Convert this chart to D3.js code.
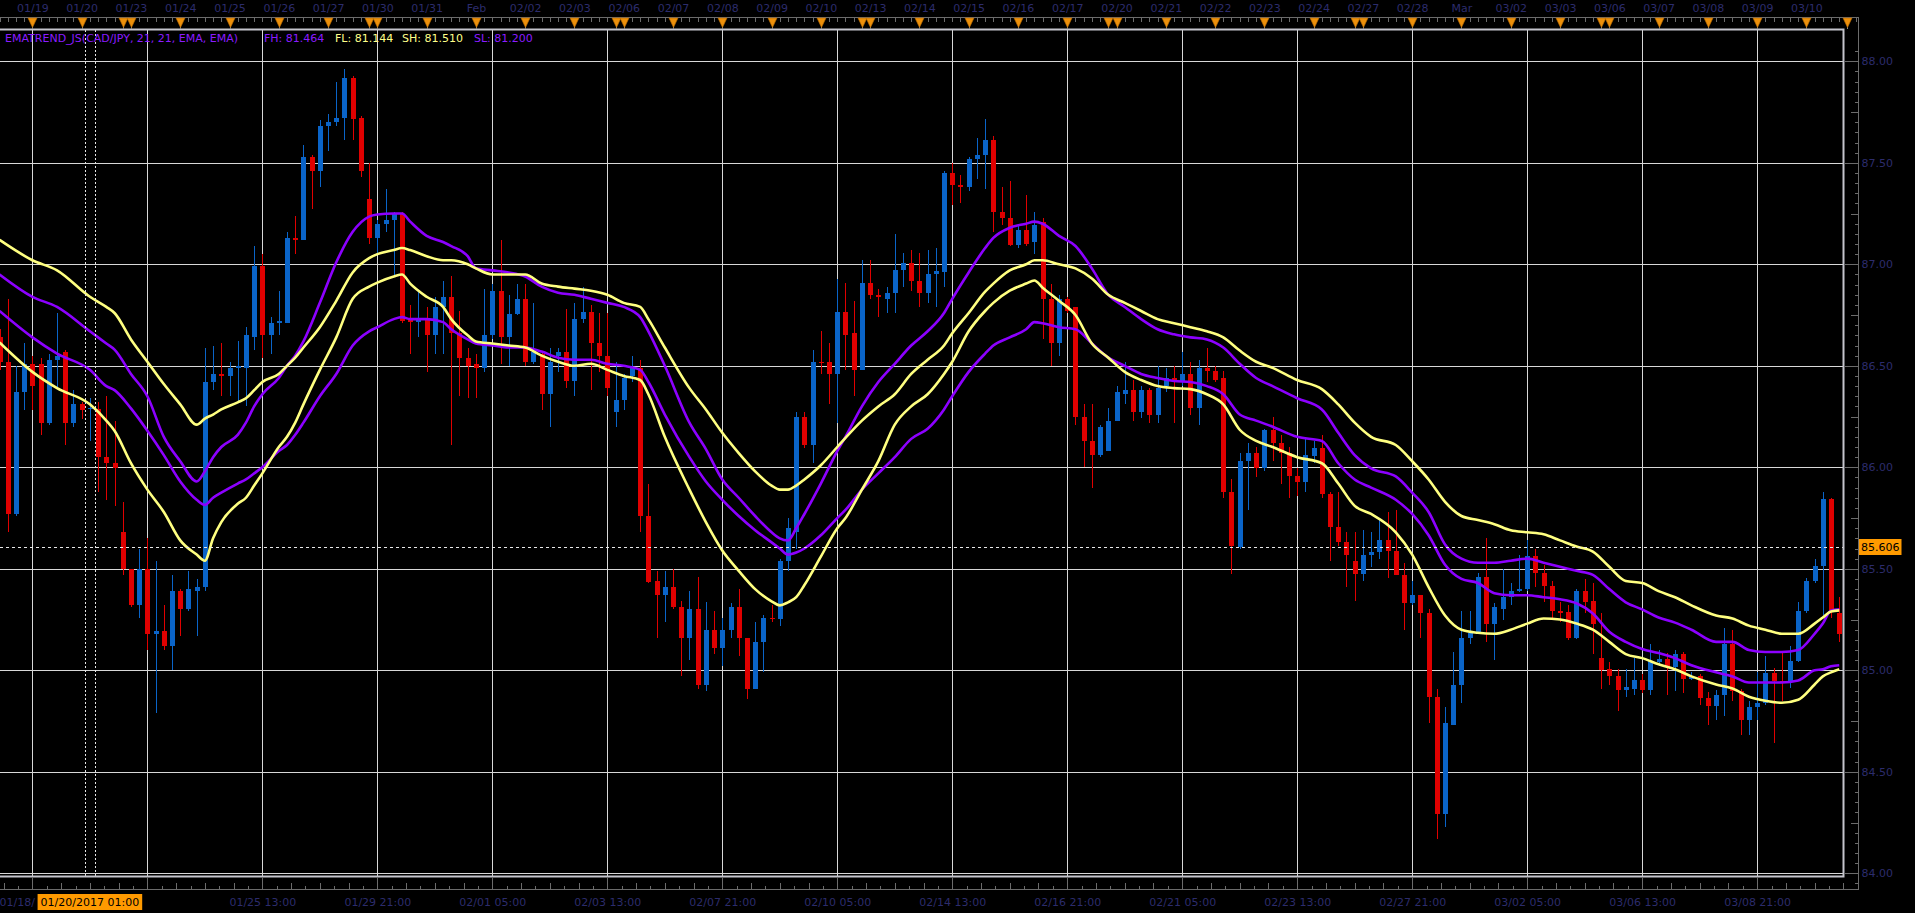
<!DOCTYPE html>
<html>
<head>
<meta charset="utf-8">
<script src="https://cdn.jsdelivr.net/npm/d3@7"></script>
<style>
  html, body { margin: 0; padding: 0; background: #000; overflow: hidden; }
  svg { display: block; font-family: "DejaVu Sans", Verdana, sans-serif; }
</style>
</head>
<body>
<script>
// 4H CAD/JPY candles, index 0 = 01/18 21:00 bar, first visible bar is index -4
const firstIdx = -4;
const opens = [86.64, 86.52, 85.77, 86.37,
  86.51, 86.51, 86.22, 86.53, 86.57, 86.22, 86.31, 86.285, 86.285, 86.05,
  86.02, 85.68, 85.50, 85.32, 85.50, 85.18, 85.195, 85.12, 85.39, 85.30,
  85.39, 85.41, 86.42, 86.46, 86.45, 86.49, 86.49, 86.64, 86.99, 86.65,
  86.71, 86.71, 87.13, 87.12, 87.53, 87.46, 87.68, 87.70, 87.72, 87.92,
  87.72, 87.32, 87.13, 87.20, 87.22, 87.25, 86.73, 86.715, 86.73, 86.65,
  86.79, 86.84, 86.66, 86.54, 86.51, 86.49, 86.65, 86.87, 86.64, 86.755,
  86.83, 86.52, 86.56, 86.36, 86.55, 86.57, 86.425, 86.73, 86.765, 86.61,
  86.55, 86.27, 86.33, 86.45, 86.49, 85.76, 85.44, 85.37, 85.41, 85.31,
  85.16, 85.30, 84.93, 85.20, 85.11, 85.20, 85.31, 85.16, 84.91, 85.14,
  85.26, 85.255, 85.54, 85.68, 86.25, 86.11, 86.52, 86.52, 86.46, 86.765,
  86.66, 86.48, 86.91, 86.85, 86.83, 86.86, 86.97, 87.005, 86.92, 86.86,
  86.95, 86.96, 87.45, 87.39, 87.38, 87.52, 87.54, 87.61, 87.26, 87.23,
  87.095, 87.17, 87.11, 87.21, 86.83, 86.61, 86.83, 86.79, 86.25, 86.13,
  86.06, 86.08, 86.23, 86.36, 86.38, 86.27, 86.38, 86.26, 86.40, 86.44,
  86.425, 86.46, 86.29, 86.49, 86.475, 86.44, 85.88, 85.605, 86.03, 86.07,
  85.995, 86.185, 86.12, 86.07, 85.955, 85.93, 86.055, 86.095, 85.87, 85.705,
  85.63, 85.54, 85.475, 85.57, 85.585, 85.64, 85.59, 85.47, 85.33, 85.37,
  85.28, 84.87, 84.29, 84.73, 84.93, 85.16, 85.185, 85.46, 85.23, 85.30,
  85.36, 85.39, 85.40, 85.565, 85.48, 85.415, 85.29, 85.285, 85.16, 85.39,
  85.34, 85.06, 85.005, 84.97, 84.905, 84.91, 84.95, 84.905, 85.04, 85.055,
  85.015, 85.08, 84.955, 84.97, 84.865, 84.825, 84.88, 85.13, 84.90, 84.755,
  84.82, 84.84, 84.985, 84.945, 84.94, 85.045, 85.29, 85.44, 85.515, 85.845, 85.28];
const highs = [86.68, 86.83, 86.50, 86.61,
  86.55, 86.54, 86.56, 86.76, 86.58, 86.38, 86.32, 86.34, 86.32, 86.35,
  86.23, 85.83, 85.50, 85.60, 85.65, 85.54, 85.32, 85.47, 85.40, 85.49,
  85.45, 86.59, 86.60, 86.61, 86.52, 86.62, 86.69, 87.09, 87.05, 86.74,
  86.87, 87.16, 87.24, 87.59, 87.54, 87.71, 87.74, 87.90, 87.96, 87.93,
  87.73, 87.50, 87.22, 87.37, 87.26, 87.26, 86.80, 86.87, 86.79, 86.84,
  86.92, 86.94, 86.77, 86.59, 86.56, 86.88, 86.905, 87.12, 86.85, 86.905,
  86.905, 86.81, 86.57, 86.59, 86.59, 86.78, 86.81, 86.89, 86.80, 86.76,
  86.76, 86.52, 86.46, 86.55, 86.53, 85.92, 85.49, 85.49, 85.50, 85.34,
  85.39, 85.46, 85.335, 85.29, 85.26, 85.33, 85.40, 85.16, 85.24, 85.27,
  85.32, 85.55, 85.75, 86.27, 86.27, 86.58, 86.67, 86.61, 86.93, 86.91,
  86.82, 87.02, 87.02, 86.88, 86.89, 87.15, 87.055, 87.07, 87.055, 87.07,
  87.08, 87.46, 87.50, 87.44, 87.53, 87.62, 87.715, 87.63, 87.38, 87.41,
  87.195, 87.34, 87.26, 87.23, 86.905, 86.85, 86.84, 86.79, 86.31, 86.31,
  86.21, 86.29, 86.40, 86.52, 86.43, 86.40, 86.39, 86.50, 86.49, 86.50,
  86.57, 86.52, 86.53, 86.59, 86.50, 86.475, 85.94, 86.07, 86.12, 86.10,
  86.19, 86.25, 86.16, 86.10, 85.995, 86.14, 86.13, 86.16, 85.88, 85.88,
  85.68, 85.68, 85.69, 85.68, 85.74, 85.78, 85.79, 85.53, 85.44, 85.37,
  85.30, 84.91, 84.82, 85.09, 85.29, 85.29, 85.48, 85.65, 85.33, 85.50,
  85.43, 85.57, 85.64, 85.60, 85.52, 85.44, 85.335, 85.32, 85.40, 85.45,
  85.43, 85.28, 85.04, 85.005, 85.005, 85.06, 84.98, 85.13, 85.10, 85.085,
  85.10, 85.09, 84.99, 84.98, 84.895, 84.905, 85.21, 85.20, 84.91, 84.85,
  84.99, 85.07, 85.01, 85.09, 85.12, 85.335, 85.455, 85.55, 85.88, 85.85, 85.36];
const lows = [86.48, 85.68, 85.76, 86.28,
  86.28, 86.16, 86.21, 86.39, 86.11, 86.20, 86.24, 86.13, 85.88, 85.84,
  85.81, 85.47, 85.31, 85.26, 85.10, 84.79, 85.10, 85.00, 85.17, 85.29,
  85.17, 85.39, 86.38, 86.35, 86.35, 86.32, 86.30, 86.58, 86.54, 86.56,
  86.65, 86.71, 87.05, 87.12, 87.27, 87.38, 87.56, 87.68, 87.61, 87.61,
  87.43, 87.10, 87.055, 87.16, 86.94, 86.71, 86.56, 86.64, 86.47, 86.56,
  86.56, 86.11, 86.35, 86.34, 86.34, 86.47, 86.63, 86.51, 86.50, 86.75,
  86.50, 86.51, 86.28, 86.20, 86.47, 86.39, 86.35, 86.71, 86.38, 86.47,
  86.35, 86.20, 86.28, 86.42, 85.68, 85.43, 85.16, 85.24, 85.30, 84.97,
  85.05, 84.91, 84.90, 85.08, 85.02, 85.16, 85.07, 84.86, 84.91, 84.99,
  85.24, 85.22, 85.49, 85.60, 86.095, 86.02, 86.46, 86.31, 86.22, 86.48,
  86.35, 86.48, 86.83, 86.74, 86.76, 86.76, 86.89, 86.87, 86.79, 86.81,
  86.79, 86.89, 87.29, 87.30, 87.36, 87.42, 87.37, 87.16, 87.195, 87.09,
  87.08, 87.09, 87.05, 86.63, 86.50, 86.55, 86.76, 86.21, 86.00, 85.90,
  86.05, 86.08, 86.23, 86.31, 86.23, 86.245, 86.22, 86.22, 86.37, 86.22,
  86.40, 86.26, 86.21, 86.42, 86.42, 85.85, 85.475, 85.60, 85.79, 85.95,
  85.98, 86.03, 85.92, 85.85, 85.86, 85.88, 86.02, 85.85, 85.54, 85.61,
  85.41, 85.34, 85.44, 85.51, 85.55, 85.455, 85.47, 85.20, 85.32, 85.16,
  84.74, 84.17, 84.23, 84.73, 84.84, 85.13, 85.18, 85.14, 85.05, 85.25,
  85.32, 85.385, 85.39, 85.41, 85.335, 85.26, 85.24, 85.15, 85.155, 85.28,
  85.08, 84.91, 84.93, 84.80, 84.87, 84.88, 84.89, 84.88, 85.02, 84.88,
  84.90, 84.89, 84.95, 84.83, 84.73, 84.755, 84.775, 84.85, 84.68, 84.68,
  84.755, 84.83, 84.64, 84.85, 84.915, 85.04, 85.28, 85.43, 85.27, 85.26, 85.14];
const closes = [86.52, 85.77, 86.37, 86.51,
  86.40, 86.22, 86.53, 86.55, 86.22, 86.31, 86.28, 86.29, 86.05, 86.02,
  85.995, 85.50, 85.32, 85.50, 85.18, 85.195, 85.12, 85.39, 85.30, 85.40,
  85.41, 86.42, 86.46, 86.45, 86.49, 86.50, 86.65, 86.99, 86.65, 86.71,
  86.72, 87.13, 87.12, 87.53, 87.46, 87.68, 87.70, 87.72, 87.92, 87.715,
  87.46, 87.13, 87.20, 87.22, 87.25, 86.72, 86.715, 86.73, 86.65, 86.79,
  86.84, 86.66, 86.54, 86.50, 86.49, 86.65, 86.87, 86.64, 86.755, 86.83,
  86.52, 86.57, 86.36, 86.52, 86.57, 86.425, 86.73, 86.765, 86.61, 86.55,
  86.39, 86.33, 86.44, 86.49, 85.76, 85.435, 85.37, 85.41, 85.31, 85.16,
  85.30, 84.93, 85.20, 85.11, 85.20, 85.31, 85.16, 84.91, 85.14, 85.26,
  85.255, 85.54, 85.70, 86.25, 86.11, 86.52, 86.515, 86.46, 86.765, 86.65,
  86.48, 86.91, 86.85, 86.84, 86.86, 86.97, 87.005, 86.92, 86.86, 86.95,
  86.965, 87.45, 87.39, 87.38, 87.52, 87.54, 87.61, 87.26, 87.23, 87.095,
  87.17, 87.10, 87.195, 86.83, 86.61, 86.83, 86.77, 86.25, 86.13, 86.06,
  86.20, 86.23, 86.37, 86.38, 86.27, 86.38, 86.26, 86.39, 86.44, 86.425,
  86.46, 86.29, 86.49, 86.475, 86.43, 85.88, 85.61, 86.03, 86.07, 85.995,
  86.185, 86.12, 86.07, 85.955, 85.93, 86.06, 86.095, 85.87, 85.705, 85.63,
  85.57, 85.475, 85.57, 85.585, 85.64, 85.59, 85.47, 85.33, 85.37, 85.28,
  84.87, 84.29, 84.74, 84.93, 85.16, 85.185, 85.46, 85.23, 85.31, 85.36,
  85.39, 85.40, 85.565, 85.48, 85.415, 85.29, 85.28, 85.16, 85.39, 85.335,
  85.23, 85.00, 84.97, 84.905, 84.92, 84.95, 84.905, 85.045, 85.055, 85.015,
  85.08, 84.955, 84.97, 84.865, 84.825, 84.88, 85.13, 84.90, 84.755, 84.82,
  84.84, 84.985, 84.945, 84.94, 85.045, 85.29, 85.44, 85.515, 85.845, 85.29, 85.18];

// EMATREND bands, read at these bar indices
const emaIdx = [-4, 0, 3, 7, 9, 10, 12, 14, 16, 18,
  20, 21, 22, 23, 25, 26, 27, 28, 30, 31,
  32, 33, 35, 37, 39, 41, 42, 44, 45, 46,
  48, 50, 51, 53, 54, 56, 58, 60, 62, 64,
  66, 68, 70, 72, 74, 75, 77, 80, 82, 84,
  86, 88, 90, 91, 92, 93, 94, 96, 98, 99,
  101, 103, 105, 107, 109, 111, 112, 114, 116, 117,
  119, 121, 122, 123, 125, 127, 129, 131, 133, 135,
  137, 139, 141, 143, 145, 147, 149, 151, 154, 157,
  159, 161, 163, 166, 168, 170, 172, 174, 176, 178,
  180, 182, 184, 186, 188, 190, 192, 194, 196, 198,
  200, 202, 205, 207, 209, 211, 213, 215, 217, 218,
  219, 220];
const yellowUpper = [87.12, 87.02, 86.97, 86.84, 86.79, 86.76, 86.63, 86.52, 86.41, 86.31,
  86.21, 86.24, 86.26, 86.285, 86.32, 86.34, 86.38, 86.42, 86.46, 86.50,
  86.54, 86.59, 86.69, 86.82, 86.96, 87.03, 87.05, 87.07, 87.08, 87.07,
  87.04, 87.02, 87.02, 87.00, 86.98, 86.95, 86.95, 86.95, 86.905, 86.89,
  86.88, 86.87, 86.85, 86.81, 86.79, 86.73, 86.59, 86.39, 86.285, 86.17,
  86.07, 85.98, 85.91, 85.89, 85.89, 85.91, 85.94, 86.01, 86.10, 86.145,
  86.23, 86.30, 86.36, 86.46, 86.53, 86.60, 86.66, 86.76, 86.865, 86.905,
  86.97, 87.00, 87.02, 87.02, 87.00, 86.98, 86.93, 86.85, 86.81, 86.77,
  86.73, 86.71, 86.69, 86.67, 86.64, 86.575, 86.52, 86.49, 86.43, 86.385,
  86.31, 86.22, 86.15, 86.11, 86.03, 85.94, 85.83, 85.76, 85.74, 85.72,
  85.69, 85.68, 85.67, 85.64, 85.61, 85.585, 85.51, 85.44, 85.43, 85.39,
  85.36, 85.32, 85.27, 85.255, 85.22, 85.20, 85.18, 85.18, 85.23, 85.26,
  85.29, 85.295];
const purpleUpper = [86.95, 86.84, 86.79, 86.67, 86.61, 86.58, 86.46, 86.35, 86.15, 86.03,
  85.93, 85.98, 86.05, 86.10, 86.16, 86.22, 86.30, 86.36, 86.44, 86.50,
  86.55, 86.62, 86.81, 87.01, 87.16, 87.235, 87.245, 87.25, 87.25, 87.21,
  87.14, 87.11, 87.09, 87.04, 86.98, 86.97, 86.96, 86.94, 86.89, 86.86,
  86.85, 86.83, 86.81, 86.79, 86.74, 86.67, 86.50, 86.22, 86.09, 85.94,
  85.85, 85.76, 85.68, 85.65, 85.64, 85.70, 85.77, 85.92, 86.08, 86.15,
  86.30, 86.42, 86.51, 86.60, 86.67, 86.76, 86.83, 86.96, 87.08, 87.13,
  87.18, 87.20, 87.21, 87.20, 87.14, 87.09, 86.98, 86.85, 86.79, 86.73,
  86.68, 86.655, 86.64, 86.63, 86.59, 86.51, 86.44, 86.40, 86.34, 86.285,
  86.17, 86.06, 85.995, 85.955, 85.875, 85.78, 85.62, 85.55, 85.53, 85.53,
  85.54, 85.55, 85.53, 85.51, 85.49, 85.47, 85.40, 85.335, 85.30, 85.26,
  85.235, 85.20, 85.14, 85.14, 85.10, 85.09, 85.09, 85.10, 85.18, 85.23,
  85.295, 85.30];
const purpleLower = [86.77, 86.64, 86.56, 86.48, 86.40, 86.38, 86.29, 86.18, 86.06, 85.93,
  85.84, 85.815, 85.85, 85.875, 85.92, 85.94, 85.97, 86.00, 86.08, 86.11,
  86.16, 86.22, 86.35, 86.46, 86.60, 86.67, 86.69, 86.73, 86.74, 86.73,
  86.73, 86.715, 86.68, 86.63, 86.61, 86.60, 86.59, 86.59, 86.57, 86.54,
  86.53, 86.53, 86.51, 86.50, 86.48, 86.42, 86.26, 86.05, 85.93, 85.84,
  85.76, 85.69, 85.63, 85.60, 85.57, 85.58, 85.60, 85.665, 85.75, 85.79,
  85.89, 85.97, 86.05, 86.14, 86.19, 86.285, 86.35, 86.47, 86.56, 86.60,
  86.64, 86.68, 86.715, 86.71, 86.69, 86.68, 86.61, 86.54, 86.50, 86.46,
  86.44, 86.425, 86.42, 86.40, 86.36, 86.26, 86.23, 86.20, 86.15, 86.13,
  86.02, 85.94, 85.90, 85.84, 85.77, 85.665, 85.52, 85.45, 85.43, 85.38,
  85.37, 85.37, 85.36, 85.35, 85.33, 85.28, 85.19, 85.14, 85.105, 85.085,
  85.06, 85.025, 84.99, 84.97, 84.94, 84.94, 84.94, 84.95, 85.00, 85.005,
  85.02, 85.025];
const yellowLower = [86.615, 86.47, 86.39, 86.31, 86.23, 86.18, 86.02, 85.89, 85.78, 85.64,
  85.57, 85.54, 85.65, 85.73, 85.82, 85.85, 85.91, 85.97, 86.10, 86.15,
  86.22, 86.31, 86.48, 86.64, 86.83, 86.89, 86.91, 86.94, 86.95, 86.905,
  86.84, 86.79, 86.73, 86.65, 86.62, 86.61, 86.60, 86.59, 86.55, 86.52,
  86.50, 86.51, 86.48, 86.45, 86.43, 86.36, 86.15, 85.89, 85.73, 85.59,
  85.49, 85.40, 85.34, 85.32, 85.335, 85.36, 85.42, 85.56, 85.70, 85.75,
  85.89, 86.03, 86.21, 86.30, 86.36, 86.46, 86.52, 86.67, 86.77, 86.81,
  86.87, 86.905, 86.92, 86.885, 86.82, 86.75, 86.61, 86.54, 86.47, 86.43,
  86.40, 86.39, 86.385, 86.36, 86.31, 86.185, 86.13, 86.10, 86.05, 86.02,
  85.92, 85.81, 85.77, 85.68, 85.57, 85.41, 85.27, 85.20, 85.185, 85.18,
  85.20, 85.23, 85.255, 85.25, 85.23, 85.20, 85.14, 85.08, 85.06, 85.03,
  85.005, 84.97, 84.93, 84.91, 84.87, 84.85, 84.84, 84.855, 84.93, 84.97,
  84.99, 85.005];

// top axis: day markers (blank label = Sunday session marker)
const dayIdx = [0, 6, 11, 12, 18, 24, 30, 36, 41, 42, 48, 54, 60, 66, 71, 72, 78, 84, 90, 96,
  101, 102, 108, 114, 120, 126, 131, 132, 138, 144, 150, 156, 161, 162, 168, 174, 180, 186,
  191, 192, 198, 204, 210, 216, 221];
const dayLabels = ["01/19", "01/20", "", "01/23", "01/24", "01/25", "01/26", "01/27", "", "01/30",
  "01/31", "Feb", "02/02", "02/03", "", "02/06", "02/07", "02/08", "02/09", "02/10",
  "", "02/13", "02/14", "02/15", "02/16", "02/17", "", "02/20", "02/21", "02/22",
  "02/23", "02/24", "", "02/27", "02/28", "Mar", "03/02", "03/03",
  "", "03/06", "03/07", "03/08", "03/09", "03/10", ""];

// bottom axis
const timeIdx = [0, 14, 28, 42, 56, 70, 84, 98, 112, 126, 140, 154, 168, 182, 196, 210];
const timeLabels = ["01/18/2017 21:00", "01/23 05:00", "01/25 13:00", "01/29 21:00", "02/01 05:00",
  "02/03 13:00", "02/07 21:00", "02/10 05:00", "02/14 13:00", "02/16 21:00", "02/21 05:00",
  "02/23 13:00", "02/27 21:00", "03/02 05:00", "03/06 13:00", "03/08 21:00"];

// right axis
const priceTicks = [84.0, 84.5, 85.0, 85.5, 86.0, 86.5, 87.0, 87.5, 88.0];
const lastPrice = 85.606;
const crossIdx = 7;
const crossLabel = "01/20/2017 01:00";

const legendTexts = ["EMATREND_JS(CAD/JPY, 21, 21, EMA, EMA)", "FH: 81.464", "FL: 81.144", "SH: 81.510", "SL: 81.200"];
const legendColors = ["#8a1cff", "#8a1cff", "#ffff8a", "#ffff8a", "#8a1cff"];
const legendX = [5, 264, 335, 402, 474];

// ---------------------------------------------------------------
const W = 1915, H = 913;
const plot = { left: 0, right: 1844, top: 30, bottom: 876 };
const axisX = 1858.5, axisTopY = 17.5, axisBottomY = 889.5;
const barW = 8.213;
const textColor = '#2c2c6c';
const axisColor = '#6c6c6c';
const gridColor = '#d8d8d8';

const x = d3.scaleLinear().domain([0, 1]).range([32.4, 32.4 + barW]);
const y = d3.scaleLinear().domain([84, 88]).range([873.3, 61.3]);

const svg = d3.select('body').append('svg')
  .attr('width', W).attr('height', H)
  .style('background', '#000');

svg.append('defs').append('clipPath').attr('id', 'plotClip')
  .append('rect')
  .attr('x', plot.left).attr('y', plot.top)
  .attr('width', plot.right - plot.left).attr('height', plot.bottom - plot.top);

const plotG = svg.append('g').attr('clip-path', 'url(#plotClip)');

// grid
plotG.append('g').selectAll('line').data(priceTicks).join('line')
  .attr('x1', plot.left).attr('x2', plot.right)
  .attr('y1', d => Math.round(y(d)) + 0.5).attr('y2', d => Math.round(y(d)) + 0.5)
  .attr('stroke', gridColor).attr('shape-rendering', 'crispEdges');
plotG.append('g').selectAll('line').data(timeIdx).join('line')
  .attr('x1', d => Math.round(x(d)) + 0.5).attr('x2', d => Math.round(x(d)) + 0.5)
  .attr('y1', plot.top).attr('y2', plot.bottom)
  .attr('stroke', gridColor).attr('shape-rendering', 'crispEdges');

// candles
const candles = opens.map((o, k) => ({ i: firstIdx + k, o: o, h: highs[k], l: lows[k], c: closes[k] }));
const upColor = '#0a64c8', downColor = '#e00000';
const cg = plotG.append('g').attr('shape-rendering', 'crispEdges');
cg.selectAll('line').data(candles).join('line')
  .attr('x1', d => Math.round(x(d.i)) + 0.5).attr('x2', d => Math.round(x(d.i)) + 0.5)
  .attr('y1', d => Math.round(y(d.h))).attr('y2', d => Math.round(y(d.l)))
  .attr('stroke', d => d.c >= d.o ? upColor : downColor);
cg.selectAll('rect').data(candles).join('rect')
  .attr('x', d => Math.round(x(d.i)) - 2)
  .attr('width', 5)
  .attr('y', d => Math.round(y(Math.max(d.o, d.c))))
  .attr('height', d => Math.max(1, Math.round(y(Math.min(d.o, d.c))) - Math.round(y(Math.max(d.o, d.c)))))
  .attr('fill', d => d.c >= d.o ? upColor : downColor);

// EMA bands
const line = d3.line().x(d => x(d[0])).y(d => y(d[1])).curve(d3.curveMonotoneX);
const bands = [
  [purpleUpper, '#8c00ff'],
  [purpleLower, '#8c00ff'],
  [yellowUpper, '#ffff80'],
  [yellowLower, '#ffff80']
];
bands.forEach(([vals, col]) => {
  plotG.append('path')
    .datum(emaIdx.map((i, k) => [i, vals[k]]))
    .attr('d', line)
    .attr('fill', 'none')
    .attr('stroke', col)
    .attr('stroke-width', 2.6)
    .attr('stroke-linejoin', 'round');
});

// current price line and crosshair
const py = Math.round(y(lastPrice)) + 0.5;
plotG.append('line')
  .attr('x1', plot.left).attr('x2', plot.right).attr('y1', py).attr('y2', py)
  .attr('stroke', '#e8e8e8').attr('stroke-dasharray', '3,3').attr('shape-rendering', 'crispEdges');
[-4.7, 4.7].forEach(off => {
  const cx = Math.round(x(crossIdx) + off) + 0.5;
  plotG.append('line')
    .attr('x1', cx).attr('x2', cx).attr('y1', plot.top).attr('y2', plot.bottom)
    .attr('stroke', '#e8e8e8').attr('stroke-dasharray', '2,2').attr('shape-rendering', 'crispEdges');
});

// legend
legendTexts.forEach((t, k) => {
  svg.append('text')
    .attr('x', legendX[k]).attr('y', 41.5)
    .attr('font-size', 11)
    .attr('fill', legendColors[k])
    .text(t);
});

// frame
svg.append('path')
  .attr('d', `M${plot.left},${plot.top - 0.5}H${plot.right - 0.5}V${plot.bottom + 0.5}H${plot.left}`)
  .attr('fill', 'none').attr('stroke', '#c4c4cc').attr('stroke-width', 2);

// axis lines
const axes = svg.append('g').attr('shape-rendering', 'crispEdges');
axes.append('path')
  .attr('d', `M0,${axisTopY}H${axisX}V${axisBottomY}H0`)
  .attr('fill', 'none').attr('stroke', axisColor);

function styleAxis(g) {
  g.select('.domain').remove();
  g.selectAll('line').attr('stroke', axisColor);
  g.selectAll('text').attr('fill', textColor).attr('font-size', 11)
    .attr('font-family', '"DejaVu Sans", Verdana, sans-serif');
}

// top axis: per-bar ticks, day labels, markers
axes.append('g').attr('transform', `translate(0,${axisTopY})`)
  .call(d3.axisBottom(x).tickValues(d3.range(-4, 223)).tickSize(4).tickFormat(''))
  .call(styleAxis);
axes.append('g').attr('transform', `translate(0,${axisTopY})`)
  .call(d3.axisTop(x).tickValues(dayIdx).tickSize(0).tickPadding(6).tickFormat((d, k) => dayLabels[k]))
  .call(styleAxis);
const markers = svg.append('g');
markers.selectAll('line').data(dayIdx).join('line')
  .attr('x1', d => Math.round(x(d)) + 0.5).attr('x2', d => Math.round(x(d)) + 0.5)
  .attr('y1', axisTopY).attr('y2', plot.top - 1)
  .attr('stroke', '#8a8a8a').attr('shape-rendering', 'crispEdges');
markers.selectAll('path').data(dayIdx).join('path')
  .attr('d', d => { const cx = Math.round(x(d)) + 0.5; return `M${cx - 4.5},18H${cx + 4.5}L${cx},27.5Z`; })
  .attr('fill', '#ec900c').attr('stroke', '#b86a00').attr('stroke-width', 0.6);

// right axis
axes.append('g').attr('transform', `translate(${axisX},0)`)
  .call(d3.axisLeft(y).tickValues(d3.range(0, 83).map(k => 83.95 + k * 0.05).filter(v => y(v) > 25 && y(v) < 885)).tickSize(4).tickFormat(''))
  .call(styleAxis);
axes.append('g').attr('transform', `translate(${axisX},0)`)
  .call(d3.axisLeft(y).tickValues([84.25, 84.75, 85.25, 85.75, 86.25, 86.75, 87.25, 87.75]).tickSize(8).tickFormat(''))
  .call(styleAxis);
axes.append('g').attr('transform', `translate(${axisX},0)`)
  .call(d3.axisLeft(y).tickValues(priceTicks).tickSize(14).tickFormat(''))
  .call(styleAxis);
axes.append('g').attr('transform', `translate(${axisX},0)`)
  .call(d3.axisRight(y).tickValues(priceTicks).tickSize(0).tickPadding(3).tickFormat(d3.format('.2f')))
  .call(styleAxis);

// bottom axis
const minorSteps = [];
timeIdx.concat([224]).forEach(t => { for (let j = 1; j < 8; j++) minorSteps.push({ v: t - 14 + j * 1.75, j }); });
const minorVals = minorSteps.filter(d => x(d.v) >= 0 && x(d.v) < axisX);
axes.append('g').attr('transform', `translate(0,${axisBottomY})`)
  .call(d3.axisTop(x).tickValues(minorVals.filter(d => d.j % 2 === 1).map(d => d.v)).tickSize(4).tickFormat(''))
  .call(styleAxis);
axes.append('g').attr('transform', `translate(0,${axisBottomY})`)
  .call(d3.axisTop(x).tickValues(minorVals.filter(d => d.j % 2 === 0).map(d => d.v)).tickSize(7).tickFormat(''))
  .call(styleAxis);
axes.append('g').attr('transform', `translate(0,${axisBottomY})`)
  .call(d3.axisTop(x).tickValues(timeIdx).tickSize(13).tickFormat(''))
  .call(styleAxis);
const bottomLabels = axes.append('g').attr('transform', `translate(0,${axisBottomY})`)
  .call(d3.axisBottom(x).tickValues(timeIdx).tickSize(0).tickPadding(9).tickFormat((d, k) => timeLabels[k]))
  .call(styleAxis);

// crosshair time box
const crossX = x(crossIdx);
const boxG = svg.append('g');
const boxText = boxG.append('text')
  .attr('x', crossX).attr('y', 906)
  .attr('text-anchor', 'middle').attr('font-size', 11).attr('fill', '#000')
  .text(crossLabel);
const tw = boxText.node().getComputedTextLength();
const boxL = crossX - tw / 2 - 3, boxR = crossX + tw / 2 + 3;
boxG.insert('rect', 'text')
  .attr('x', boxL).attr('y', 894).attr('width', boxR - boxL).attr('height', 16)
  .attr('fill', '#ff9a00');

// first label starts at the left edge and is cut where the box begins; others under the box are hidden
bottomLabels.selectAll('.tick').each(function (d, k) {
  const t = d3.select(this).select('text');
  if (k === 0) {
    const startX = -1;
    t.attr('text-anchor', 'start').attr('x', startX - x(d));
    let s = t.text();
    while (s.length > 0 && startX + t.node().getComputedTextLength() > boxL - 1) {
      s = s.slice(0, -1);
      t.text(s);
    }
  } else {
    const w = t.node().getComputedTextLength();
    if (x(d) - w / 2 < boxR + 2 && x(d) + w / 2 > boxL - 2) t.remove();
  }
});

// last price box
const pg = svg.append('g');
const pText = pg.append('text')
  .attr('x', 1861).attr('y', y(lastPrice)).attr('dy', '0.35em')
  .attr('font-size', 11).attr('fill', '#000')
  .text(d3.format('.3f')(lastPrice));
const pw = pText.node().getComputedTextLength();
pg.insert('rect', 'text')
  .attr('x', 1859).attr('y', Math.round(y(lastPrice)) - 8)
  .attr('width', pw + 4).attr('height', 16)
  .attr('fill', '#ff9a00');
</script>
</body>
</html>
